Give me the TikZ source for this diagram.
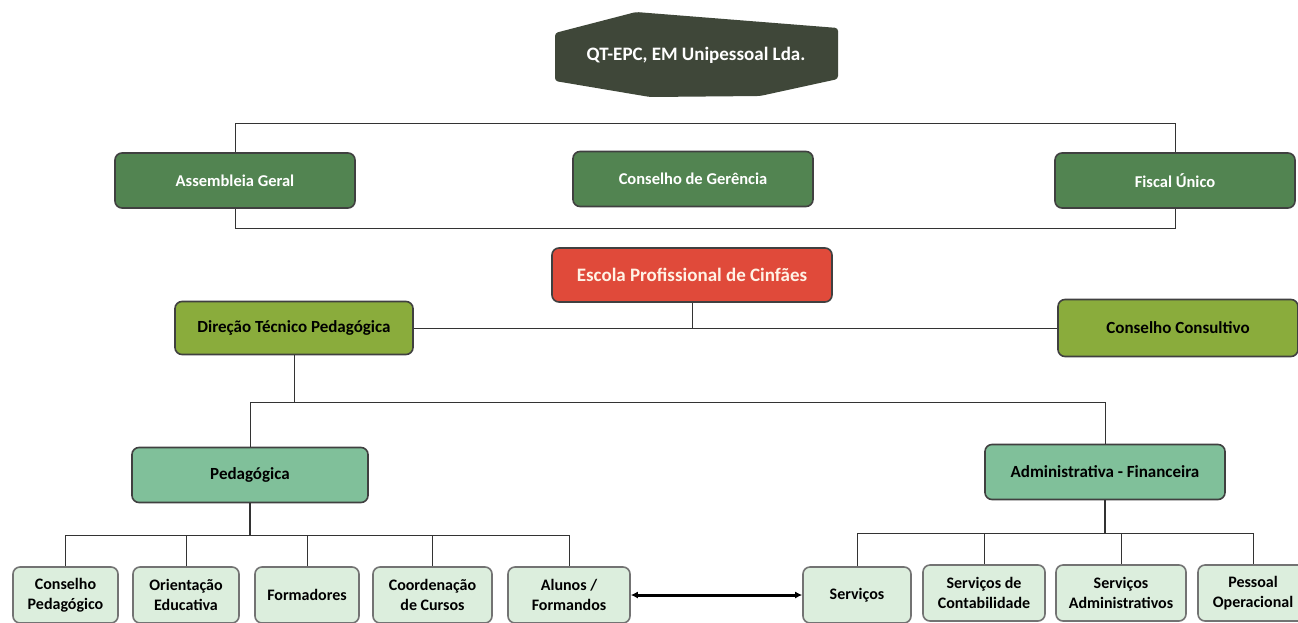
\documentclass[tikz,border=0pt]{standalone}
\usepackage{fontspec}
\setmainfont{Carlito}
\usetikzlibrary{positioning,arrows.meta,backgrounds}
\definecolor{topgray}{HTML}{3F4739}
\definecolor{boardgreen}{HTML}{528451}
\definecolor{schoolred}{HTML}{E04A3A}
\definecolor{olivegreen}{HTML}{8AAC3C}
\definecolor{seagreen}{HTML}{80C09A}
\definecolor{palegreen}{HTML}{DCEEDD}

\begin{document}
\begin{tikzpicture}[x=1pt,y=-1pt,
                        box/.style={draw=black!75,line width=1.6pt,rounded corners=7pt,align=center,inner sep=0pt},
                        board/.style={box,fill=boardgreen,text=white,minimum width=240pt,minimum height=55pt,font=\bfseries\fontsize{16.5}{20}\selectfont},
                        direct/.style={box,fill=olivegreen,minimum width=238pt,font=\bfseries\fontsize{17}{20}\selectfont},
                        area/.style={box,fill=seagreen,minimum height=55pt,font=\bfseries\fontsize{17}{20}\selectfont},
                        unit/.style={box,draw=black!55,fill=palegreen,minimum height=56pt,font=\bfseries\fontsize{16}{19.5}\selectfont},
                        link/.style={line width=1pt,black!80}]
                        \useasboundingbox (0,0) rectangle (1298,622);
                        \fill[white] (0,0) rectangle (1298,622);
                        \coordinate (ltop) at (235,123);
                        \coordinate (rtop) at (1175,123);
                        \coordinate (lbot) at (235,228);
                        \coordinate (rbot) at (1175,228);
                        \coordinate (mid) at (0,402);
                        \coordinate (pbar) at (0,535);
                        \coordinate (abar) at (0,533);
                        \draw[link] (ltop) -- (rtop) -- (rbot) -- (lbot) -- cycle;
                        \fill[topgray,rounded corners=3pt] (555,33) -- (636,12) -- (838,28) -- (838,79)
                            -- (760,96) -- (650,97) -- (555,81) -- cycle;
                        \node (qt) at (696,55) [minimum width=283pt,minimum height=85pt,text=white,
                            font=\bfseries\fontsize{19}{23}\selectfont] {QT-EPC, EM Unipessoal Lda.};
                        \node[board] (ag) at (235,180.5) {Assembleia Geral};
                        \node[board] (cg) at (693,179) {Conselho de Gerência};
                        \node[board] (fu) at (1175,180.5) {Fiscal Único};
                        \node[box,fill=schoolred,text=white!90!orange,minimum width=280pt,minimum height=54pt,
                            font=\bfseries\fontsize{19}{23}\selectfont] (esc) at (692,275) {Escola Profissional de Cinfães};
                        \node[direct,minimum height=53pt] (dir) at (294,328) {Direção Técnico Pedagógica};
                        \node[direct,minimum width=240pt,minimum height=57pt] (cc) at (1178,328) {Conselho Consultivo};
                        \node[area,minimum width=236pt] (ped) at (250,475) {Pedagógica};
                        \node[area,minimum width=240pt] (adm) at (1105,472) {Administrativa - Financeira};
                        \node[unit,minimum width=105pt] (cp) at (65.5,595) {Conselho\\Pedagógico};
                        \node[unit,minimum width=106pt] (oe) at (186,595) {Orientação\\Educativa};
                        \node[unit,minimum width=104pt] (fo) at (307,595) {Formadores};
                        \node[unit,minimum width=119pt] (cu) at (432.5,595) {Coordenação\\de Cursos};
                        \node[unit,minimum width=122pt] (al) at (569,595) {Alunos /\\Formandos};
                        \node[unit,minimum width=108pt] (se) at (857,595) {Serviços};
                        \node[unit,minimum width=122pt] (co) at (984,593) {Serviços de\\Contabilidade};
                        \node[unit,minimum width=130pt] (sa) at (1121,593) {Serviços\\Administrativos};
                        \node[unit,minimum width=110pt] (po) at (1253,593) {Pessoal\\Operacional};
                        \begin{scope}[on background layer]
                            \draw[link] (qt.south) -- (cg.north);
                            \draw[link] (cg.south) -- (esc.north);
                        \end{scope}
                        \draw[link] (esc.south) -- (esc.south |- dir.east);
                        \draw[link] (dir.east) -- (cc.west);
                        \draw[link] (dir.south) -- (dir.south |- mid);
                        \draw[link] (ped.north) -- (ped.north |- mid) -- (adm.north |- mid) -- (adm.north);
                        \draw[link,line width=2pt] (ped.south) -- (ped.south |- pbar);
                        \draw[link] (cp.north) -- (cp.north |- pbar) -- (al.north |- pbar) -- (al.north);
                        \foreach \n in {oe,fo,cu}
                            \draw[link] (\n.north) -- (\n.north |- pbar);
                        \draw[link,line width=2pt] (adm.south) -- (adm.south |- abar);
                        \draw[link] (se.north) -- (se.north |- abar) -- (po.north |- abar) -- (po.north);
                        \foreach \n in {co,sa}
                            \draw[link] (\n.north) -- (\n.north |- abar);
                        \draw[line width=3pt,{Latex[length=7pt,width=7pt]}-{Latex[length=7pt,width=7pt]}] (al.east) -- (se.west);
                    \end{tikzpicture}
\end{document}
